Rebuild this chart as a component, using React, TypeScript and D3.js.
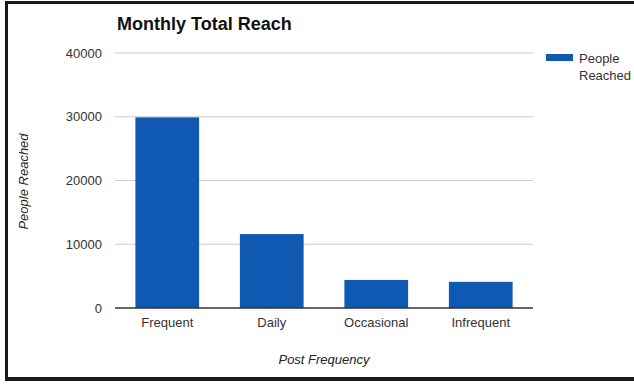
import React from "react";
import * as d3 from "d3";

// Monthly reach by posting frequency
const categories: string[] = ["Frequent", "Daily", "Occasional", "Infrequent"];
const peopleReached: number[] = [29900, 11600, 4400, 4100];
const yTicks: number[] = [0, 10000, 20000, 30000, 40000];

const W = 634;
const H = 384;
const plot = { left: 115, right: 533, top: 53, bottom: 308 };
const barColor = "#1059b3";
const font = "Arial, 'Liberation Sans', Helvetica, sans-serif";

export default function App() {
  const x = d3
    .scaleBand<string>()
    .domain(categories)
    .range([plot.left, plot.right])
    .paddingInner(0.39)
    .paddingOuter(0.195);
  const y = d3.scaleLinear().domain([0, 40000]).range([plot.bottom, plot.top]);

  return (
    <svg
      width={W}
      height={H}
      style={{ position: "absolute", left: 0, top: 0, background: "#fff" }}
      fontFamily={font}
    >
      {/* frame */}
      <rect x={0} y={0} width={W} height={H} fill="#fff" />
      <line x1={6.5} y1={2} x2={6.5} y2={380} stroke="#1a1a1a" strokeWidth={3} />
      <line x1={5} y1={2.5} x2={W} y2={2.5} stroke="#1a1a1a" strokeWidth={3} />
      <line x1={5} y1={379} x2={W} y2={379} stroke="#1a1a1a" strokeWidth={4} />

      {/* title */}
      <text x={117} y={30} fontSize={18} fontWeight="bold" fill="#111">
        Monthly Total Reach
      </text>

      {/* gridlines and y tick labels */}
      {yTicks.map((t) => (
        <g key={t}>
          {t !== 0 && (
            <line
              x1={plot.left}
              x2={plot.right}
              y1={y(t)}
              y2={y(t)}
              stroke="#cccccc"
              strokeWidth={1}
            />
          )}
          <text
            x={102}
            y={y(t)}
            dy="0.35em"
            textAnchor="end"
            fontSize={13}
            fill="#333"
          >
            {t}
          </text>
        </g>
      ))}

      {/* bars */}
      {categories.map((c, i) => (
        <rect
          key={c}
          x={x(c)}
          y={y(peopleReached[i])}
          width={x.bandwidth()}
          height={y(0) - y(peopleReached[i])}
          fill={barColor}
        />
      ))}

      {/* baseline */}
      <line
        x1={plot.left}
        x2={plot.right}
        y1={y(0)}
        y2={y(0)}
        stroke="#333"
        strokeWidth={1.5}
      />

      {/* category labels */}
      {categories.map((c) => (
        <text
          key={c}
          x={(x(c) ?? 0) + x.bandwidth() / 2}
          y={327}
          textAnchor="middle"
          fontSize={13}
          fill="#333"
        >
          {c}
        </text>
      ))}

      {/* axis titles */}
      <text
        x={(plot.left + plot.right) / 2}
        y={364}
        textAnchor="middle"
        fontSize={13}
        fontStyle="italic"
        fill="#222"
      >
        Post Frequency
      </text>
      <text
        transform={`translate(28, ${(plot.top + plot.bottom) / 2 + 1}) rotate(-90)`}
        textAnchor="middle"
        fontSize={13}
        fontStyle="italic"
        fill="#222"
      >
        People Reached
      </text>

      {/* legend */}
      <rect x={546} y={54} width={27} height={7} fill={barColor} />
      <text x={579} y={63} fontSize={13} fill="#333">
        People
      </text>
      <text x={579} y={80} fontSize={13} fill="#333">
        Reached
      </text>
    </svg>
  );
}
